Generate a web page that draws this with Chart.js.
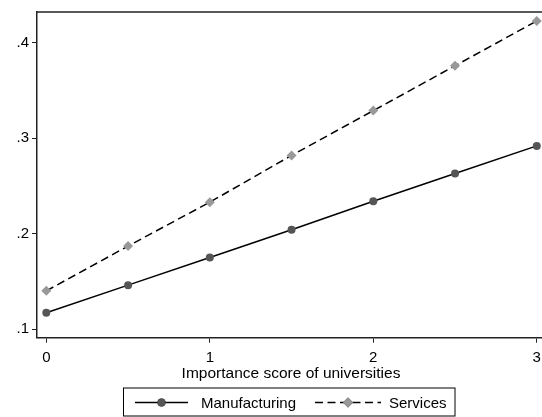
<!DOCTYPE html>
<html>
<head>
<meta charset="utf-8">
<script src="https://cdn.jsdelivr.net/npm/chart.js@4.4.1/dist/chart.umd.min.js"></script>
<style>
  html, body { margin: 0; padding: 0; background: #fff; overflow: hidden; }
  #wrap { width: 542px; height: 417px; position: relative; }
</style>
</head>
<body>
<div id="wrap"><canvas id="chart" width="542" height="417"></canvas></div>
<script>
// Predicted probability by importance score of universities
const scores = [0, 0.5, 1, 1.5, 2, 2.5, 3];
const manufacturing = [0.117, 0.146, 0.175, 0.204, 0.234, 0.263, 0.292];
const services = [0.140, 0.187, 0.233, 0.282, 0.329, 0.376, 0.423];
const xTicks = [0, 1, 2, 3];
const yTicks = [0.1, 0.2, 0.3, 0.4];
const yTickLabels = ['.1', '.2', '.3', '.4'];
const seriesNames = ['Manufacturing', 'Services'];
const xTitle = 'Importance score of universities';

const FONT = '"Liberation Sans", Arial, sans-serif';
const FONT_SIZE = 15;

const toPoints = (vals) => scores.map((x, i) => ({ x: x, y: vals[i] }));

// Outline on top of the plot region, axis title and boxed legend
const decorations = {
  id: 'decorations',
  afterDraw(chart) {
    const ctx = chart.ctx;
    const area = chart.chartArea;
    ctx.save();
    ctx.strokeStyle = '#222';
    ctx.lineWidth = 1.5;
    ctx.beginPath();
    ctx.moveTo(area.left - 0.75, area.top);
    ctx.lineTo(area.right + 2, area.top);
    ctx.stroke();

    ctx.fillStyle = '#000';
    ctx.font = '15.5px ' + FONT;
    ctx.textAlign = 'center';
    ctx.textBaseline = 'alphabetic';
    ctx.fillText(xTitle, 291, 377.5);

    // legend box
    ctx.font = FONT_SIZE + 'px ' + FONT;
    ctx.strokeStyle = '#000';
    ctx.lineWidth = 1;
    ctx.strokeRect(123.5, 388, 331.5, 28);

    const items = [
      { ds: chart.data.datasets[0], x0: 135, x1: 188, tx: 201 },
      { ds: chart.data.datasets[1], x0: 315, x1: 381, tx: 389 }
    ];
    const ly = 402.5;
    items.forEach((it) => {
      ctx.save();
      ctx.strokeStyle = it.ds.borderColor;
      ctx.lineWidth = it.ds.borderWidth;
      ctx.setLineDash(it.ds.borderDash || []);
      ctx.beginPath();
      ctx.moveTo(it.x0, ly);
      ctx.lineTo(it.x1, ly);
      ctx.stroke();
      ctx.restore();
      Chart.helpers.drawPoint(ctx, {
        pointStyle: it.ds.pointStyle,
        radius: it.ds.pointRadius,
        borderWidth: 0,
        rotation: 0
      }, (it.x0 + it.x1) / 2, ly);
      ctx.fillStyle = it.ds.pointBackgroundColor;
      ctx.fill();
      ctx.fillStyle = '#000';
      ctx.textAlign = 'left';
      ctx.textBaseline = 'alphabetic';
      ctx.fillText(it.ds.label, it.tx, 407.7);
    });
    ctx.restore();
  }
};

new Chart(document.getElementById('chart'), {
  type: 'line',
  data: {
    datasets: [
      {
        label: seriesNames[0],
        data: toPoints(manufacturing),
        borderColor: '#000',
        borderWidth: 1.5,
        pointStyle: 'circle',
        pointRadius: 4,
        pointBackgroundColor: '#555',
        pointBorderWidth: 0,
        clip: false
      },
      {
        label: seriesNames[1],
        data: toPoints(services),
        borderColor: '#000',
        borderWidth: 1.5,
        borderDash: [8, 4.5],
        pointStyle: 'rectRot',
        pointRadius: 5,
        pointBackgroundColor: '#999',
        pointBorderWidth: 0,
        clip: false
      }
    ]
  },
  plugins: [decorations],
  options: {
    responsive: false,
    animation: false,
    events: [],
    layout: { autoPadding: false, padding: { top: 10.7, right: 0, left: 0, bottom: 0 } },
    plugins: { legend: { display: false }, tooltip: { enabled: false } },
    scales: {
      x: {
        type: 'linear',
        min: -0.057,
        max: 3.032,
        afterBuildTicks: (s) => { s.ticks = xTicks.map((v) => ({ value: v })); },
        afterFit: (s) => { s.height = 79.3; s.paddingLeft = 0; s.paddingRight = 0; },
        ticks: {
          autoSkip: false,
          maxRotation: 0,
          padding: 6,
          color: '#000',
          font: { family: FONT, size: FONT_SIZE },
          callback: (v) => String(v)
        },
        grid: { drawOnChartArea: false, drawTicks: true, tickLength: 5, color: '#222', tickWidth: 1 },
        border: { display: true, color: '#222', width: 1.5 }
      },
      y: {
        type: 'linear',
        min: 0.0909,
        max: 0.4324,
        afterBuildTicks: (s) => { s.ticks = yTicks.map((v) => ({ value: v })); },
        afterFit: (s) => { s.width = 37; },
        ticks: {
          autoSkip: false,
          padding: 3,
          color: '#000',
          font: { family: FONT, size: FONT_SIZE },
          callback: (v) => {
            const i = yTicks.findIndex((t) => Math.abs(t - v) < 1e-9);
            return i >= 0 ? yTickLabels[i] : '';
          }
        },
        grid: { drawOnChartArea: false, drawTicks: true, tickLength: 5, color: '#222', tickWidth: 1 },
        border: { display: true, color: '#222', width: 1.5 }
      }
    }
  }
});
</script>
</body>
</html>
